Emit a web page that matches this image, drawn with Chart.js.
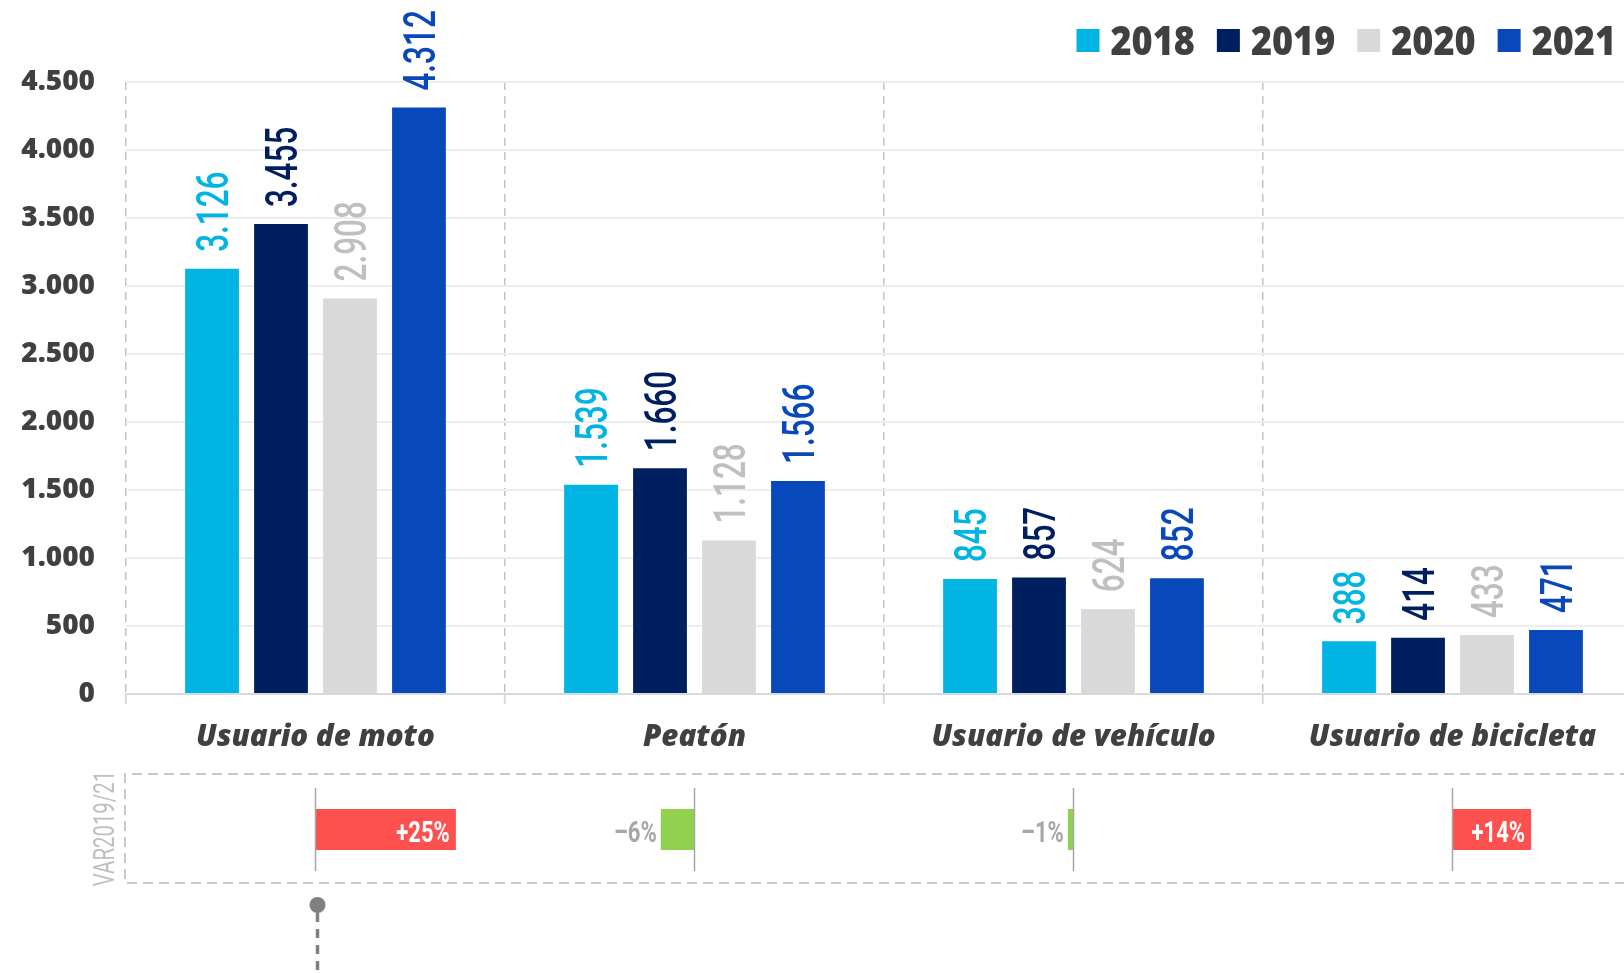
<!DOCTYPE html>
<html>
<head>
<meta charset="utf-8">
<script src="https://cdn.jsdelivr.net/npm/chart.js@4.4.1/dist/chart.umd.min.js"></script>
<style>
  html, body { margin: 0; padding: 0; overflow: hidden; background: #ffffff; width: 1624px; height: 973px; }
  #wrap { position: absolute; left: 0; top: 0; width: 1642px; height: 973px; }
  canvas { display: block; }
</style>
</head>
<body>
<div id="wrap"><canvas id="c" width="1642" height="973"></canvas></div>
<script>
// ---------------- DATA ----------------
const categories = ['Usuario de moto', 'Peatón', 'Usuario de vehículo', 'Usuario de bicicleta'];
const years = ['2018', '2019', '2020', '2021'];
const values2018 = [3126, 1539, 845, 388];
const values2019 = [3455, 1660, 857, 414];
const values2020 = [2908, 1128, 624, 433];
const values2021 = [4312, 1566, 852, 471];
const variance2019to21 = [25, -6, -1, 14];   // % change 2019 -> 2021
const varianceTitle = 'VAR2019/21';
const yMin = 0, yMax = 4500, yStep = 500;

// ---------------- STYLE ----------------
const barColors   = ['#00B4E4', '#001F5F', '#D9D9D9', '#0948BA'];
const labelColors = ['#00B4E4', '#001F5F', '#BFBFBF', '#0948BA'];
const TEXT_DARK = '#404040';

function fmt(n) {
  return String(n).replace(/\B(?=(\d{3})+(?!\d))/g, '.');
}
function fmtPct(v) {
  return (v > 0 ? '+' : '\u2013') + Math.abs(v) + '%';
}

// rotated value labels above bars
const dataLabelPlugin = {
  id: 'dataLabels',
  afterDatasetsDraw(chart) {
    const ctx = chart.ctx;
    chart.data.datasets.forEach((ds, di) => {
      const meta = chart.getDatasetMeta(di);
      meta.data.forEach((bar, i) => {
        const txt = fmt(ds.data[i]);
        ctx.save();
        ctx.translate(bar.x, bar.y - 17);
        ctx.rotate(-Math.PI / 2);
        ctx.scale(0.7, 1);
        ctx.font = '500 45px Roboto';
        ctx.fillStyle = labelColors[di];
        ctx.textAlign = 'left';
        ctx.textBaseline = 'alphabetic';
        ctx.fillText(txt, 0, 16);
        ctx.restore();
      });
    });
  }
};

// custom legend (top right)
const legendPlugin = {
  id: 'customLegend',
  afterDraw(chart) {
    const ctx = chart.ctx;
    const ds = chart.data.datasets;
    ctx.save();
    ctx.font = '800 40px "Open Sans"';
    const sx = 0.9;
    let right = 1616;
    const cy = 40;
    for (let i = ds.length - 1; i >= 0; i--) {
      const w = ctx.measureText(ds[i].label).width * sx;
      const tx = right - w;
      const bx = tx - 11 - 23;
      ctx.fillStyle = ds[i].backgroundColor;
      ctx.fillRect(bx, cy - 11, 23, 23);
      ctx.save();
      ctx.translate(tx, cy);
      ctx.scale(sx, 1);
      ctx.fillStyle = TEXT_DARK;
      ctx.textAlign = 'left';
      ctx.textBaseline = 'alphabetic';
      ctx.fillText(ds[i].label, 0, 14.5);
      ctx.restore();
      right = bx - 22;
    }
    ctx.restore();
  }
};

// variance panel below the x axis
const variancePlugin = {
  id: 'variancePanel',
  afterDraw(chart) {
    const ctx = chart.ctx;
    const area = chart.chartArea;
    const xs = chart.scales.x;
    const vs = chart.scales.v;
    const top = area.bottom + 80;
    const bottom = area.bottom + 189;
    const left = area.left - 1;

    ctx.save();
    // dashed frame
    ctx.strokeStyle = '#C8C8C8';
    ctx.lineWidth = 2;
    ctx.setLineDash([10, 6]);
    ctx.beginPath();
    ctx.moveTo(chart.width + 20, top);
    ctx.lineTo(left, top);
    ctx.lineTo(left, bottom);
    ctx.lineTo(chart.width + 20, bottom);
    ctx.stroke();
    ctx.setLineDash([]);

    // title
    ctx.save();
    ctx.translate(102.5, (top + bottom) / 2);
    ctx.rotate(-Math.PI / 2);
    ctx.scale(0.68, 1);
    ctx.font = '400 30px Roboto';
    ctx.fillStyle = '#BFBFBF';
    ctx.textAlign = 'center';
    ctx.textBaseline = 'alphabetic';
    ctx.fillText(varianceTitle, 0, 11);
    ctx.restore();

    const zero = vs.getPixelForValue(0);
    const barTop = top + 35, barH = 41;
    variance2019to21.forEach((val, i) => {
      const cx = xs.getPixelForValue(i);
      const len = vs.getPixelForValue(val) - zero;
      // bar
      ctx.fillStyle = val >= 0 ? '#FF5050' : '#92D050';
      if (len >= 0) ctx.fillRect(cx, barTop, len, barH);
      else ctx.fillRect(cx + len, barTop, -len, barH);
      // zero line
      ctx.strokeStyle = '#A6A6A6';
      ctx.lineWidth = 1.5;
      ctx.beginPath();
      ctx.moveTo(cx, top + 14);
      ctx.lineTo(cx, bottom - 12);
      ctx.stroke();
      // label
      ctx.save();
      ctx.font = '700 29px Roboto';
      ctx.textAlign = 'right';
      ctx.textBaseline = 'alphabetic';
      const sx = 0.76;
      if (val >= 0) {
        ctx.fillStyle = '#FFFFFF';
        ctx.translate(cx + len - 6, barTop + 33);
      } else {
        ctx.fillStyle = '#A6A6A6';
        ctx.translate(cx + len - 4, barTop + 33);
      }
      ctx.scale(sx, 1);
      ctx.fillText(fmtPct(val), 0, 0);
      ctx.restore();
    });

    // pointer dot + dashed line under first category
    const px = xs.getPixelForValue(0) + 2;
    ctx.fillStyle = '#808080';
    ctx.beginPath();
    ctx.arc(px, bottom + 22, 8, 0, Math.PI * 2);
    ctx.fill();
    ctx.strokeStyle = '#808080';
    ctx.lineWidth = 3.5;
    ctx.setLineDash([9, 7]);
    ctx.beginPath();
    ctx.moveTo(px, bottom + 30);
    ctx.lineTo(px, chart.height + 5);
    ctx.stroke();
    ctx.restore();
  }
};

const datasets = [values2018, values2019, values2020, values2021].map((vals, i) => ({
  label: years[i],
  data: vals,
  backgroundColor: barColors[i],
  borderWidth: 0,
  categoryPercentage: 0.728,
  barPercentage: 0.78
}));

new Chart(document.getElementById('c'), {
  type: 'bar',
  data: { labels: categories, datasets },
  options: {
    responsive: false,
    animation: false,
    devicePixelRatio: 1,
    layout: { padding: { top: 82, left: 0, right: 0, bottom: 0 } },
    plugins: { legend: { display: false }, tooltip: { enabled: false } },
    scales: {
      x: {
        grid: {
          display: true, offset: true, color: '#C4C4C4', lineWidth: 1.5,
          drawOnChartArea: true, drawTicks: true, tickLength: 10,
          tickColor: '#D9D9D9', tickWidth: 2, tickBorderDash: []
        },
        border: { display: true, color: '#D9D9D9', width: 2, dash: [8, 6] },
        ticks: {
          color: TEXT_DARK, padding: 16, maxRotation: 0, autoSkip: false,
          font: { family: '"Open Sans"', style: 'italic', weight: '800', size: 29.5 }
        },
        afterFit(s) { s.height = 279; }
      },
      y: {
        min: yMin, max: yMax,
        ticks: {
          stepSize: yStep, callback: v => fmt(v), color: TEXT_DARK, padding: 31,
          font: { family: '"Open Sans"', weight: '800', size: 28 }
        },
        grid: { color: '#EDEDED', lineWidth: 2, drawTicks: false },
        border: { display: false },
        afterFit(s) { s.width = 126; }
      },
      v: { type: 'linear', axis: 'x', display: false, bounds: 'data', min: -130, max: 130, ticks: { stepSize: 10 } }
    }
  },
  plugins: [dataLabelPlugin, variancePlugin, legendPlugin]
});
</script>
</body>
</html>
